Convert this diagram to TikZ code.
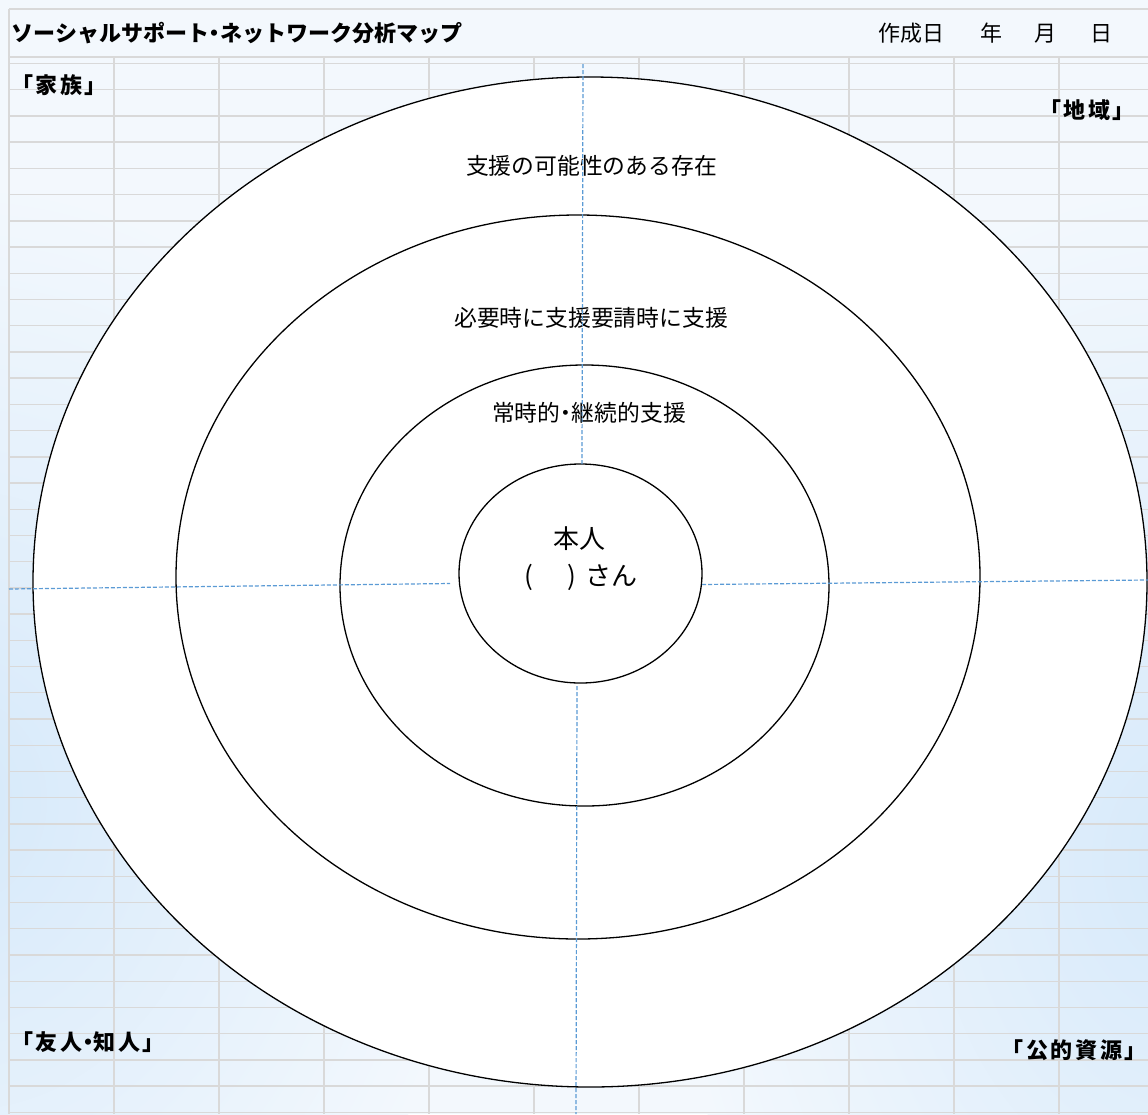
\documentclass[tikz,border=0pt]{standalone}
\usepackage{fontspec}
\usetikzlibrary{shapes.geometric}
\newfontfamily\jp{Noto Sans CJK JP}
\newfontfamily\jpsp[LetterSpace=12]{Noto Sans CJK JP}
\newcommand{\hdot}{\kern-0.25em・\kern-0.25em}
\definecolor{bgbase}{RGB}{243,248,253}
\definecolor{bgedge}{RGB}{214,233,250}
\definecolor{gridc}{RGB}{217,217,217}
\definecolor{dashblue}{RGB}{91,155,213}
\tikzset{
  ring/.style={draw=black, line width=1.3pt, fill=white, ellipse, inner sep=0pt, outer sep=0pt},
  gridline/.style={draw=gridc, line width=1.4pt},
  guide/.style={draw=dashblue, line width=1.2pt, dash pattern=on 4pt off 2pt},
  ringlabel/.style={font=\jp\fontsize{22.8}{26}\selectfont, inner sep=0pt},
  cornerlabel/.style={font=\jpsp\bfseries\fontsize{22}{26}\selectfont, inner sep=0pt},
  headlabel/.style={font=\jp\fontsize{22}{26}\selectfont, inner sep=0pt},
}
\begin{document}
\begin{tikzpicture}[x=1pt,y=-1pt]
\useasboundingbox (0,0) rectangle (1148,1114);
% background
\fill[bgbase] (0,0) rectangle (1148,1114);
\begin{scope}
\clip (0,0) rectangle (1148,1114);
\shade[inner color=bgedge, outer color=bgbase] (-40,800) ellipse [x radius=520pt, y radius=620pt];
\shade[inner color=bgedge, outer color=bgbase] (1190,860) ellipse [x radius=520pt, y radius=680pt];
\end{scope}
% grid
\draw[gridline] (9,9) -- (1148,9);
\draw[gridline] (9,57) -- (1148,57);
\foreach \k in {0,...,40} {
  \draw[gridline] (9,{63.5+26.22*\k}) -- (1148,{63.5+26.22*\k});
}
\draw[gridline] (9,9) -- (9,1114);
\foreach \k in {1,...,10} {
  \draw[gridline] ({9+105*\k},57) -- ({9+105*\k},1114);
}
% header
\node[headlabel, font=\jp\bfseries\fontsize{22}{26}\selectfont] (title) at (237,33) {ソーシャルサポート\hdot ネットワーク分析マップ};
\node[headlabel, anchor=west] (date) at (878,33) {作成日\hspace{36pt}年\hspace{32pt}月\hspace{34pt}日};
% corner labels
\node[cornerlabel] (family) at (59,85) {「家族」};
\node[cornerlabel] (region) at (1087,110) {「地域」};
\node[cornerlabel] (friends) at (88,1042) {「友人\hdot 知人」};
\node[cornerlabel, anchor=east] (public) at (1147,1050) {「公的資源」};
% rings
\node[ring, minimum width=1114pt, minimum height=1010pt] (outer) at (590,582) {};
\node[ring, minimum width=804pt, minimum height=724pt] (second) at (578,577) {};
\node[ring, minimum width=489pt, minimum height=441pt] (third) at (584.5,585.5) {};
\node[ring, minimum width=243pt, minimum height=219pt] (self) at (580.5,573.5) {};
% ring labels
\node[ringlabel] (l1) at (591.5,166) {支援の可能性のある存在};
\node[ringlabel] (l2) at (591,317.5) {必要時に支援要請時に支援};
\node[ringlabel] (l3) at (589,413) {常時的\hdot 継続的支援};
\node[font=\jp\fontsize{26}{30}\selectfont, inner sep=0pt] (honnin) at (579,539) {本人};
\node[font=\jp\fontsize{26}{30}\selectfont, inner sep=0pt, anchor=west] (san) at (524,577) {(\hspace{35pt})\hspace{9pt}さん};
% guide lines
\coordinate (gtop) at (583,64);
\coordinate (gtopend) at (582,464);
\coordinate (gbot) at (577,686);
\coordinate (gbotend) at (576,1114);
\coordinate (gleft) at (9,589);
\coordinate (gleftend) at (450,583.5);
\coordinate (gright) at (702,584.5);
\coordinate (grightend) at (1148,580);
\draw[guide] (gtop) -- (gtopend);
\draw[guide] (gbot) -- (gbotend);
\draw[guide] (gleft) -- (gleftend);
\draw[guide] (gright) -- (grightend);
\end{tikzpicture}
\end{document}
